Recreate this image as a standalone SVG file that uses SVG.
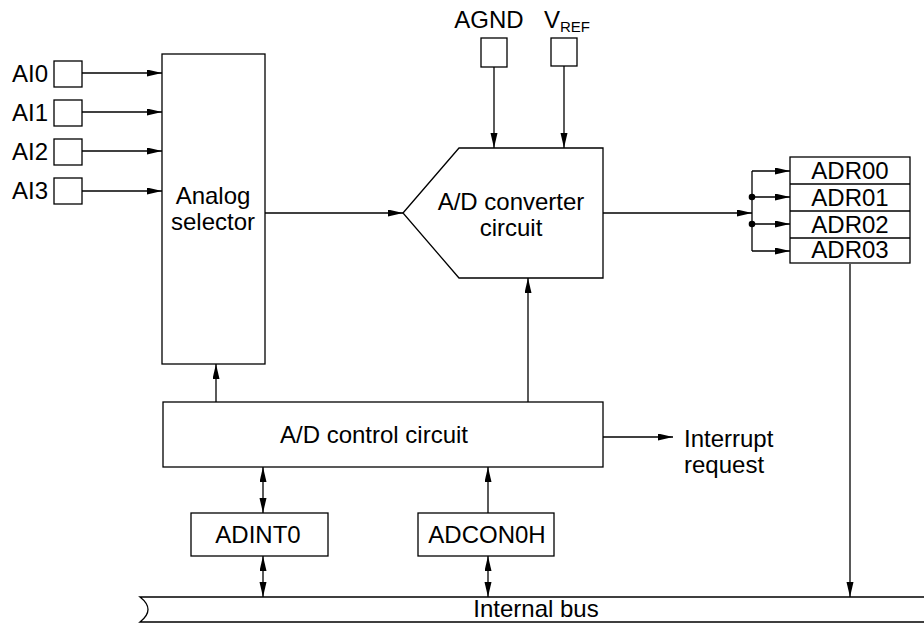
<svg xmlns="http://www.w3.org/2000/svg" width="924" height="624" viewBox="0 0 924 624">
<style>
.b{fill:#fff;stroke:#000;stroke-width:1.3}
.l{fill:none;stroke:#000;stroke-width:1.3}
.a{marker-end:url(#ah)}
.d{marker-start:url(#ah);marker-end:url(#ah)}
text{font-family:"Liberation Sans",Arial,sans-serif;font-size:24px;fill:#000}
.m{text-anchor:middle}
.e{text-anchor:end}
</style>
<defs>
<marker id="ah" markerUnits="userSpaceOnUse" markerWidth="16" markerHeight="8" refX="15" refY="3.5" orient="auto-start-reverse">
<path d="M0,0 L15,3.5 L0,7 z" fill="#000"/>
</marker>
</defs>
<rect width="924" height="624" fill="#fff"/>

<g id="connectors">
<line class="l a" x1="82" y1="73" x2="162" y2="73"/>
<line class="l a" x1="82" y1="112" x2="162" y2="112"/>
<line class="l a" x1="82" y1="151" x2="162" y2="151"/>
<line class="l a" x1="82" y1="191" x2="162" y2="191"/>
<line class="l a" x1="265" y1="213" x2="403" y2="213"/>
<line class="l a" x1="494" y1="67" x2="494" y2="148"/>
<line class="l a" x1="564" y1="66" x2="564" y2="148"/>
<line class="l a" x1="603" y1="213" x2="752" y2="213"/>
<line class="l" x1="752" y1="171" x2="752" y2="251"/>
<line class="l a" x1="752" y1="171" x2="790" y2="171"/>
<line class="l a" x1="752" y1="197" x2="790" y2="197"/>
<line class="l a" x1="752" y1="224" x2="790" y2="224"/>
<line class="l a" x1="752" y1="251" x2="790" y2="251"/>
<circle cx="752" cy="197" r="3.3" fill="#000"/>
<circle cx="752" cy="224" r="3.3" fill="#000"/>
<line class="l a" x1="850" y1="264" x2="850" y2="597"/>
<line class="l a" x1="216" y1="402" x2="216" y2="364"/>
<line class="l a" x1="528" y1="402" x2="528" y2="278"/>
<line class="l a" x1="603" y1="437" x2="673" y2="437"/>
<line class="l d" x1="263" y1="467" x2="263" y2="513"/>
<line class="l d" x1="263" y1="556" x2="263" y2="597"/>
<line class="l a" x1="488" y1="513" x2="488" y2="467"/>
<line class="l d" x1="488" y1="556" x2="488" y2="597"/>
</g>

<g id="AI0"><rect class="b" x="54" y="61" width="28" height="26"/><text class="e" x="48" y="82">AI0</text></g>
<g id="AI1"><rect class="b" x="54" y="100" width="28" height="26"/><text class="e" x="48" y="121">AI1</text></g>
<g id="AI2"><rect class="b" x="54" y="139" width="28" height="26"/><text class="e" x="48" y="160">AI2</text></g>
<g id="AI3"><rect class="b" x="54" y="178" width="28" height="26"/><text class="e" x="48" y="199">AI3</text></g>

<g id="analog-selector">
<rect class="b" x="162" y="54" width="103" height="310"/>
<text class="m" x="213" y="204" font-size="23">Analog</text>
<text class="m" x="213" y="230" font-size="23">selector</text>
</g>

<g id="AGND"><rect class="b" x="481" y="38" width="26" height="29"/><text class="m" x="489" y="28">AGND</text></g>
<g id="VREF"><rect class="b" x="551" y="38" width="26" height="28"/><text x="544" y="28">V<tspan font-size="15" dy="4">REF</tspan></text></g>

<g id="ad-converter">
<polygon class="b" points="403,213 459,148 603,148 603,278 459,278"/>
<text class="m" x="511" y="210">A/D converter</text>
<text class="m" x="511" y="236">circuit</text>
</g>

<g id="ADR">
<rect class="b" x="790" y="157" width="120" height="106"/>
<line class="l" x1="790" y1="184" x2="910" y2="184"/>
<line class="l" x1="790" y1="211" x2="910" y2="211"/>
<line class="l" x1="790" y1="238" x2="910" y2="238"/>
<text class="m" x="850" y="179">ADR00</text>
<text class="m" x="850" y="206">ADR01</text>
<text class="m" x="850" y="233">ADR02</text>
<text class="m" x="850" y="258">ADR03</text>
</g>

<g id="ad-control">
<rect class="b" x="163" y="402" width="440" height="65"/>
<text class="m" x="374" y="443">A/D control circuit</text>
</g>

<g id="interrupt"><text x="684" y="447">Interrupt</text><text x="684" y="473">request</text></g>

<g id="ADINT0"><rect class="b" x="191" y="513" width="137" height="43"/><text class="m" x="258" y="543">ADINT0</text></g>
<g id="ADCON0H"><rect class="b" x="418" y="513" width="136" height="43"/><text class="m" x="487" y="543">ADCON0H</text></g>

<g id="internal-bus">
<path d="M924,597 L140,597 Q156,609.5 140,622 L924,622" fill="#fff" stroke="#000" stroke-width="1.3"/>
<text class="m" x="536" y="617">Internal bus</text>
</g>
</svg>
